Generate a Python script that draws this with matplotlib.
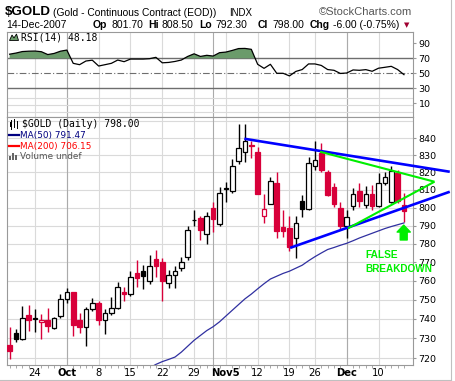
import matplotlib
matplotlib.use('Agg')
import matplotlib.pyplot as plt
import numpy as np
import pandas as pd
from matplotlib.patches import Rectangle, Polygon
from matplotlib.lines import Line2D
from matplotlib.ticker import FixedLocator, FixedFormatter, NullLocator

# trading days shown (Thanksgiving has no bar)
days = pd.bdate_range('2007-09-18', '2007-12-14')
days = days[days != pd.Timestamp('2007-11-22')]

opens = [726.5, 732.6, 729.8, 742.3, 740.3, 738.3, 739.4, 735.5, 741.3, 750.5,
         754.0, 739.6, 735.6, 745.0, 748.3, 739.6, 743.0, 745.9, 754.0, 753.3,
         764.0, 765.5, 760.0, 772.0, 770.3, 759.0, 763.2, 766.8, 772.7, 793.3,
         794.5, 785.2, 799.7, 790.7, 811.0, 809.3, 826.7, 832.1, 835.8, 832.1,
         795.6, 802.3, 814.0, 789.3, 788.9, 783.0, 803.7, 799.0, 824.0, 831.2,
         820.0, 811.8, 800.0, 790.0, 800.7, 809.2, 801.4, 807.5, 801.0, 813.7,
         803.3, 819.5, 801.7]
highs = [735.8, 735.0, 747.0, 747.5, 745.3, 742.5, 745.5, 740.8, 753.2, 756.0,
         754.2, 743.0, 746.0, 751.0, 749.5, 745.3, 751.4, 759.5, 757.0, 765.5,
         771.0, 768.6, 774.0, 776.5, 772.5, 765.8, 767.8, 772.8, 789.8, 798.5,
         795.6, 797.5, 803.3, 811.7, 814.5, 827.5, 848.3, 848.3, 838.5, 834.7,
         808.0, 817.6, 820.5, 798.6, 795.3, 795.3, 807.0, 829.0, 838.0, 837.2,
         821.4, 813.7, 803.3, 798.5, 811.3, 813.7, 812.0, 812.6, 819.5, 820.0,
         824.0, 821.5, 808.5]
lows = [719.6, 728.0, 729.0, 734.0, 733.4, 729.8, 733.4, 734.7, 740.5, 748.2,
        731.0, 732.6, 726.0, 744.0, 737.0, 732.2, 742.3, 745.0, 749.5, 752.0,
        757.0, 755.8, 758.6, 762.3, 749.5, 756.0, 756.0, 765.3, 771.2, 789.8,
        782.3, 780.0, 786.6, 790.0, 803.3, 808.2, 825.0, 826.0, 828.6, 807.7,
        791.7, 802.0, 783.0, 784.0, 776.2, 772.5, 795.0, 798.5, 821.7, 820.0,
        806.5, 800.6, 788.0, 783.0, 798.5, 800.5, 800.0, 798.6, 800.6, 813.0,
        802.7, 802.5, 792.3]
closes = [723.8, 729.8, 740.4, 739.6, 739.9, 739.5, 736.1, 740.6, 750.5, 754.3,
          737.0, 736.0, 745.0, 748.2, 739.3, 743.2, 745.9, 756.5, 753.2, 762.0,
          761.5, 762.5, 768.2, 767.8, 759.7, 763.0, 765.2, 770.3, 787.8, 793.0,
          787.8, 795.3, 793.6, 808.4, 810.7, 823.7, 834.0, 838.3, 835.2, 807.7,
          799.0, 815.0, 787.3, 787.0, 778.0, 791.5, 799.0, 825.5, 827.0, 821.7,
          807.2, 802.0, 790.0, 795.0, 807.8, 804.0, 807.7, 801.0, 813.7, 817.6,
          821.0, 804.0, 798.0]

# MA(50), from day 22 on (earlier values sit below the chart)
ma50_first = 22
ma50 = [715.0, 716.8, 718.2, 719.3, 720.5, 723.0, 726.0, 729.0, 731.5, 734.0,
        736.0, 738.5, 741.5, 744.5, 747.5, 750.5, 753.0, 755.8, 758.5, 761.0,
        762.5, 764.0, 765.2, 766.8, 768.4, 770.8, 773.0, 775.0, 776.9, 778.0,
        779.2, 780.3, 781.7, 783.2, 784.5, 785.8, 787.1, 788.4, 789.5, 790.5,
        791.5]

rsi = [75.5, 77.0, 79.0, 79.5, 79.7, 78.8, 75.0, 76.5, 79.5, 81.0,
       63.3, 61.5, 66.4, 67.5, 59.7, 61.5, 63.3, 67.7, 65.5, 69.0,
       69.0, 69.0, 69.5, 71.3, 64.0, 64.5, 65.8, 67.7, 72.5, 76.0,
       72.5, 74.0, 73.0, 77.5, 78.3, 80.5, 83.0, 83.2, 82.0, 62.0,
       56.6, 62.0, 50.0, 50.0, 46.5, 52.5, 55.0, 62.5, 62.5, 60.5,
       55.0, 54.0, 49.8, 50.4, 54.5, 54.0, 54.9, 52.7, 56.8, 58.0,
       59.3, 55.0, 48.2]

tick_labels = ['24', 'Oct', '8', '15', '22', '29', 'Nov5', '12', '19', '26', 'Dec', '10']
price_ticks = [720, 730, 740, 750, 760, 770, 780, 790, 800, 810, 820, 830, 840]
rsi_ticks = [10, 30, 50, 70, 90]

# hand drawn trend lines: (day index, price)
blue_top = [(36.9, 839.6), (69.2, 820.4)]
blue_bottom = [(44.1, 777.8), (69.2, 809.0)]
green_top = [(48.8, 832.0), (66.8, 814.7)]
green_bottom = [(53.2, 788.5), (66.8, 814.7)]

RED = '#d8003a'
GRID = '#dadada'
MONTH = '#ababab'
W, H = 455, 381

def fx(px):
    return px / W

def fy(py):
    return 1 - py / H

idx = np.arange(len(days))
mondays = idx[days.weekday == 0]
month_start = [i for i in idx[1:] if days[i].month != days[i - 1].month]
xlim = (-0.41, 63.42)

fig = plt.figure(figsize=(W / 100, H / 100), dpi=100)
fig.patch.set_facecolor('white')

# ---------------- RSI panel
rax = fig.add_axes([fx(7), fy(117), 406 / W, 85 / H])
rax.set_xlim(*xlim)
rax.set_ylim(-8.3, 105.1)
for m in mondays:
    rax.axvline(m, color=GRID, lw=0.8, zorder=0)
for m in month_start:
    rax.axvline(m, color=MONTH, lw=0.8, zorder=0)
for lvl in [17, 8, -1.5]:
    rax.axhline(lvl, color=GRID, lw=0.8, zorder=0)
rax.axhline(70, color='#6e6e6e', lw=1.0, zorder=1)
rax.axhline(30, color='#6e6e6e', lw=1.0, zorder=1)
rax.axhline(50, color='#6e6e6e', lw=0.8, ls=(0, (6, 2, 1, 2)), zorder=1)
r = np.array(rsi)
rax.fill_between(idx, r, 70, where=r > 70, interpolate=True, color='#6b9b6b', lw=0, zorder=2)
rax.plot(idx, r, color='black', lw=0.9, zorder=3)
rax.yaxis.tick_right()
rax.yaxis.set_major_locator(FixedLocator(rsi_ticks))
rax.yaxis.set_major_formatter(FixedFormatter([str(t) for t in rsi_ticks]))
rax.tick_params(axis='y', length=2, width=0.8, pad=2, labelsize=6.8, color='#999999')
rax.set_xticks([])
for s in rax.spines.values():
    s.set_color('#999999')
    s.set_linewidth(0.8)

# ---------------- price panel
ax = fig.add_axes([fx(7), fy(365), 406 / W, 248 / H])
ax.set_yscale('log')
ax.set_xlim(*xlim)
ax.set_ylim(716.5, 852.5)
for lvl in range(720, 851, 10):
    ax.axhline(lvl, color=GRID, lw=0.8, zorder=0)
for m in mondays:
    ax.axvline(m, color=GRID, lw=0.8, zorder=0)
for m in month_start:
    ax.axvline(m, color=MONTH, lw=0.8, zorder=0)

for i in idx:
    o, h, l, c = opens[i], highs[i], lows[i], closes[i]
    prev = closes[i - 1] if i > 0 else o
    col = RED if c < prev else 'black'
    ax.vlines(i, l, h, color=col, lw=1.0, zorder=2)
    lo_b, hi_b = min(o, c), max(o, c)
    fc = 'white' if c > o else col
    ax.add_patch(Rectangle((i - 0.36, lo_b), 0.72, hi_b - lo_b,
                           facecolor=fc, edgecolor=col, lw=0.9, zorder=3))

ax.plot(idx[ma50_first:], ma50, color='#3030a0', lw=0.9, zorder=2)

for line, col, lw in [(blue_top, '#0000ff', 1.9), (blue_bottom, '#0000ff', 1.9),
                      (green_top, '#00ee00', 1.5), (green_bottom, '#00ee00', 1.5)]:
    xs, ys = zip(*line)
    ax.plot(xs, ys, color=col, lw=lw, clip_on=False, zorder=4, solid_capstyle='butt')

ax.annotate('', xy=(61.96, 790.3), xytext=(61.96, 782.1), annotation_clip=False,
            arrowprops=dict(arrowstyle='simple,head_length=0.5,head_width=0.95,tail_width=0.5',
                            color='#00ee00', shrinkA=0, shrinkB=0, mutation_scale=10))

ax.yaxis.tick_right()
ax.yaxis.set_major_locator(FixedLocator(price_ticks))
ax.yaxis.set_major_formatter(FixedFormatter([str(t) for t in price_ticks]))
ax.yaxis.set_minor_locator(NullLocator())
ax.tick_params(axis='y', length=2, width=0.8, pad=2, labelsize=6.8, color='#999999')

ax.set_xticks(mondays)
ax.set_xticklabels(tick_labels)
ax.set_xticks(idx, minor=True)
ax.tick_params(axis='x', which='major', length=0, pad=2.5, labelsize=7.2)
ax.tick_params(axis='x', which='minor', length=2, width=0.6, color='#999999')
for t in ax.get_xticklabels():
    if t.get_text() in ('Oct', 'Nov5', 'Dec'):
        t.set_fontweight('bold')
for s in ax.spines.values():
    s.set_color('#999999')
    s.set_linewidth(0.8)

# ---------------- header and legends
sans = 'Liberation Sans'
fig.text(fx(5), fy(12), '$GOLD', fontsize=9.6, fontweight='bold', family=sans, va='center')
fig.text(fx(53), fy(12.5), '(Gold - Continuous Contract (EOD))', fontsize=7.4, family=sans, va='center')
fig.text(fx(229), fy(12.5), 'INDX', fontsize=7, family=sans, va='center')
fig.text(fx(412), fy(12), '\u00a9StockCharts.com', fontsize=8, family=sans, va='center', ha='right', color='#555555')

row2 = [(6, '14-Dec-2007', 'normal'), (93, 'Op', 'bold'), (111, '801.70', 'normal'),
        (148, 'Hi', 'bold'), (161, '808.50', 'normal'), (199, 'Lo', 'bold'),
        (215, '792.30', 'normal'), (258, 'Cl', 'bold'), (272, '798.00', 'normal'),
        (310, 'Chg', 'bold'), (333, '-6.00 (-0.75%)', 'normal')]
for px, txt, wt in row2:
    fig.text(fx(px), fy(24.5), txt, fontsize=7.5, fontweight=wt, family=sans, va='center')
fig.text(fx(407), fy(25), '\u25bc', fontsize=5, color='#a00030', va='center', ha='center')

fig.text(fx(21), fy(37.7), 'RSI(14) 48.18', fontsize=7, family='DejaVu Sans Mono', va='center')
fig.add_artist(Polygon([(fx(9.5), fy(40.5)), (fx(12), fy(35)), (fx(14), fy(38)),
                        (fx(16.5), fy(34)), (fx(18.5), fy(40.5))], closed=True,
                       facecolor='#6b9b6b', edgecolor='black', lw=0.6, transform=fig.transFigure))

fig.text(fx(21.5), fy(124.3), '$GOLD (Daily) 798.00', fontsize=7, family='DejaVu Sans Mono', va='center')
for xx, y0, y1 in [(11, 120, 129), (14, 119, 127), (17, 121, 128)]:
    fig.add_artist(Line2D([fx(xx), fx(xx)], [fy(y0), fy(y1)], color='black', lw=0.7,
                          transform=fig.transFigure))
fig.add_artist(Rectangle((fx(10), fy(127)), 2 / W, 5 / H, facecolor='black', transform=fig.transFigure))

fig.add_artist(Line2D([fx(9), fx(18.5)], [fy(135), fy(135)], color='#000080', lw=1.6, transform=fig.transFigure))
fig.text(fx(19.5), fy(135.7), 'MA(50) 791.47', fontsize=6.4, color='#000080', va='center')
fig.add_artist(Line2D([fx(9), fx(18.5)], [fy(146), fy(146)], color='#ff0000', lw=1.6, transform=fig.transFigure))
fig.text(fx(19.5), fy(146.7), 'MA(200) 706.15', fontsize=6.4, color='#ff0000', va='center')
for xx, hh in [(10, 4), (13, 7), (16, 5)]:
    fig.add_artist(Rectangle((fx(xx - 1), fy(160)), 2.2 / W, hh / H, facecolor='#666666', transform=fig.transFigure))
fig.text(fx(19.5), fy(156.7), 'Volume undef', fontsize=6.4, color='#555555', va='center')

fig.text(fx(365), fy(255), 'FALSE', fontsize=7.3, fontweight='bold', family=sans, color='#00ee00', va='center')
fig.text(fx(365), fy(268.5), 'BREAKDOWN', fontsize=7.2, fontweight='bold', family=sans, color='#00ee00', va='center')

# light frame on right and bottom edges
fig.add_artist(Line2D([fx(450.5), fx(450.5)], [fy(0), fy(379.5)], color='#c0c0c0', lw=0.8, transform=fig.transFigure))
fig.add_artist(Line2D([fx(0), fx(450.5)], [fy(379.5), fy(379.5)], color='#c0c0c0', lw=0.8, transform=fig.transFigure))

fig.savefig('out.png', dpi=100)
